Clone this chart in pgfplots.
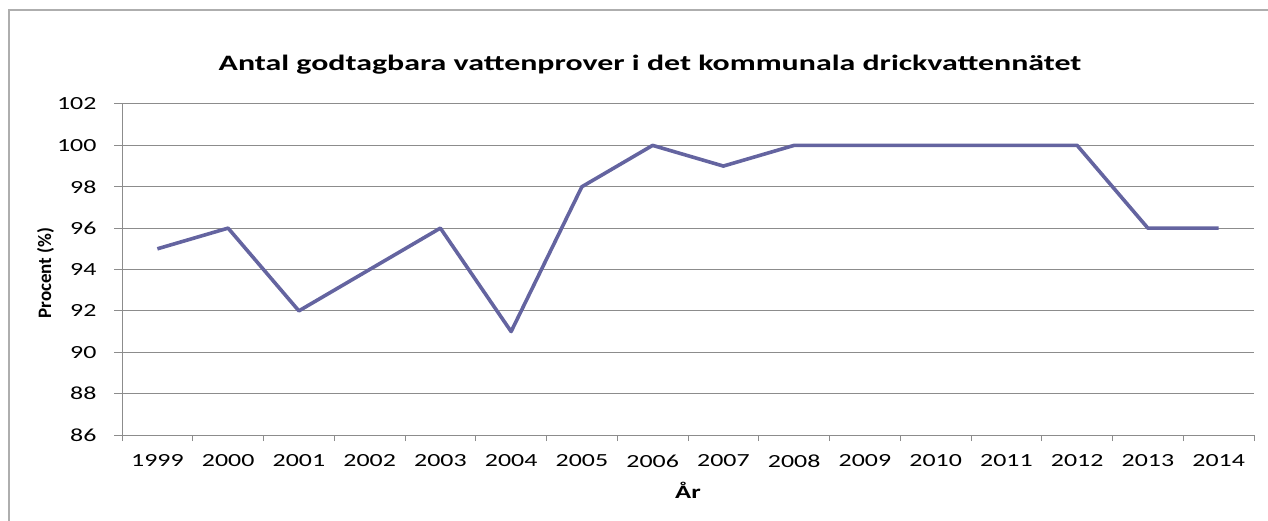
\documentclass[border=0pt]{standalone}
\usepackage{pgfplots}
\pgfplotsset{compat=1.18}
\usepackage{fontspec}
\setmainfont{Carlito}
\definecolor{linec}{HTML}{6464A0}
\definecolor{gridc}{HTML}{8C8C8C}
\begin{document}
\begin{tikzpicture}
\useasboundingbox (0pt,0pt) rectangle (1268pt,-521pt);
\draw[gridc!70, line width=1.2pt] (9pt,-521pt) -- (9pt,-10pt) -- (1268pt,-10pt);
\begin{axis}[
  at={(122pt,-435pt)}, anchor=south west,
  scale only axis, width=1132pt, height=331pt,
  xmin=-0.5, xmax=15.5, ymin=86, ymax=102,
  xtick={0,...,15},
  xticklabels={1999,2000,2001,2002,2003,2004,2005,2006,2007,2008,2009,2010,2011,2012,2013,2014},
  minor xtick={-0.5,0.5,...,15.5},
  ytick={86,88,...,102},
  tick align=outside,
  major tick length=8pt, minor tick length=6pt,
  xtick style={draw=none},
  minor x tick style={draw=gridc, line width=1pt},
  y tick style={draw=gridc, line width=1pt},
  ymajorgrids, grid style={draw=gridc, line width=1pt},
  axis line style={draw=gridc, line width=1pt},
  axis x line*=bottom, axis y line*=left,
  x axis line style={-}, y axis line style={-},
  ticklabel style={font=\fontsize{18.5}{20}\selectfont, xscale=1.4},
  /pgf/number format/assume math mode=true,
  yticklabel style={xshift=-9pt},
  xticklabel style={yshift=-8pt},
  clip=false,
]
\addplot[linec, line width=3.6pt, line join=round] coordinates {
(0,95) (1,96) (2,92) (3,94) (4,96) (5,91) (6,98) (7,100) (8,99) (9,100) (10,100) (11,100) (12,100) (13,100) (14,96) (15,96)};
\end{axis}
\node[font=\fontsize{22}{26}\bfseries\selectfont, anchor=base, xscale=1.45] at (650pt,-71pt) {Antal godtagbara vattenprover i det kommunala drickvattennätet};
\node[font=\fontsize{19}{22}\bfseries\selectfont, anchor=base, xscale=1.4] at (688pt,-498pt) {År};
\node[font=\fontsize{19}{22}\bfseries\selectfont, rotate=90, anchor=base] at (51pt,-273pt) {Procent (\%)};
\end{tikzpicture}
\end{document}
